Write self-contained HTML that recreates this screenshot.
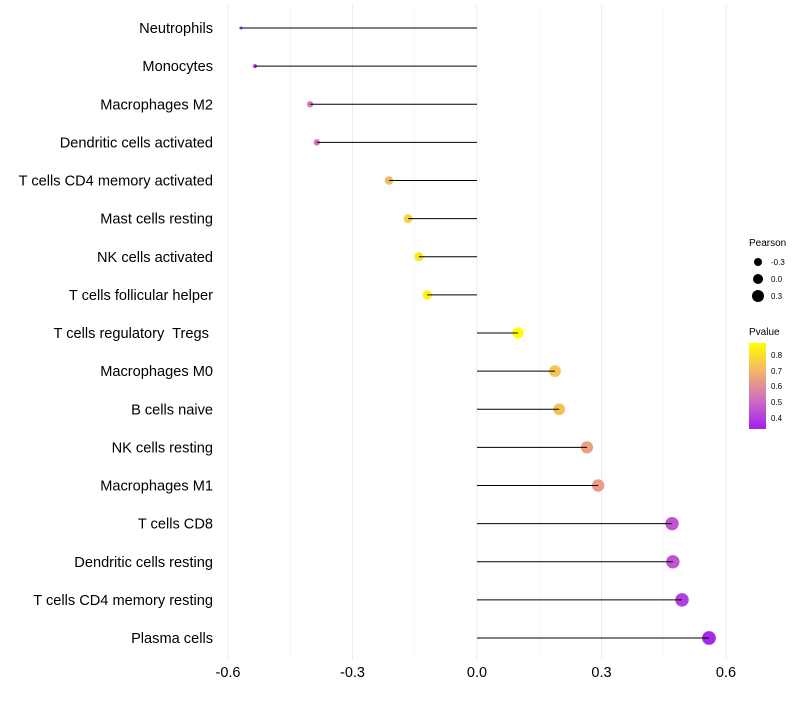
<!DOCTYPE html>
<html><head><meta charset="utf-8"><style>
body{margin:0;background:#fff;font-family:"Liberation Sans",sans-serif}
svg text{font-family:"Liberation Sans",sans-serif;white-space:pre}
</style></head><body>
<svg id="chart" width="800" height="700" xmlns="http://www.w3.org/2000/svg">
<defs><linearGradient id="pg" x1="0" y1="1" x2="0" y2="0">
<stop offset="0" stop-color="#a020f0"/><stop offset="0.35" stop-color="#d070c0"/><stop offset="0.65" stop-color="#f0b070"/><stop offset="1" stop-color="#ffff00"/>
</linearGradient></defs>
<g id="grid"></g><g id="marks"></g><g id="labels"></g>
<g>
<text x="749" y="246" font-size="10">Pearson</text>
<circle cx="758" cy="262" r="4" fill="#000"/><text x="771" y="265" font-size="8">-0.3</text>
<circle cx="758" cy="279" r="5" fill="#000"/><text x="771" y="282" font-size="8">0.0</text>
<circle cx="758" cy="296" r="6" fill="#000"/><text x="771" y="299" font-size="8">0.3</text>
<text x="749" y="335" font-size="10">Pvalue</text>
<rect x="749" y="343" width="17" height="86" fill="url(#pg)"/>
<text x="771" y="358" font-size="8">0.8</text><text x="771" y="374" font-size="8">0.7</text>
<text x="771" y="389" font-size="8">0.6</text><text x="771" y="405" font-size="8">0.5</text>
<text x="771" y="421" font-size="8">0.4</text>
</g>
</svg>
<script>
const categories=["Neutrophils","Monocytes","Macrophages M2","Dendritic cells activated","T cells CD4 memory activated","Mast cells resting","NK cells activated","T cells follicular helper","T cells regulatory  Tregs ","Macrophages M0","B cells naive","NK cells resting","Macrophages M1","T cells CD8","Dendritic cells resting","T cells CD4 memory resting","Plasma cells"];
const pearson=[-0.569,-0.535,-0.402,-0.386,-0.212,-0.166,-0.140,-0.120,0.099,0.188,0.198,0.265,0.292,0.470,0.472,0.494,0.559];
const pvalue=[0.38,0.39,0.55,0.55,0.72,0.78,0.83,0.86,0.88,0.75,0.74,0.66,0.65,0.47,0.47,0.42,0.37];
const xTicks=[-0.6,-0.3,0.0,0.3,0.6];
const xTickLabels=["-0.6","-0.3","0.0","0.3","0.6"];
const NS="http://www.w3.org/2000/svg";
const xs=v=>477+v*415;
const ys=i=>28+i*(610/16);
const rs=v=>Math.sqrt(Math.max(1,2.25+47*(v+0.57)-6*(v+0.57)*(v+0.57)));
const stops=[[0.35,[160,32,240]],[0.53,[208,112,192]],[0.7,[240,176,112]],[0.88,[255,255,0]]];
function col(p){p=Math.max(0.35,Math.min(0.88,p));for(let k=0;k<stops.length-1;k++){const a=stops[k],b=stops[k+1];if(p<=b[0]){const t=(p-a[0])/(b[0]-a[0]);return "rgb("+a[1].map((c,j)=>Math.round(c+(b[1][j]-c)*t)).join(",")+")";}}return "rgb(255,255,0)";}
function mk(tag,at,parent){const e=document.createElementNS(NS,tag);for(const k in at)e.setAttribute(k,at[k]);document.getElementById(parent).appendChild(e);return e;}
const minor=[-0.45,-0.15,0.15,0.45];
minor.forEach(v=>{const l=mk("line",{x1:xs(v),x2:xs(v),y1:5,y2:660,stroke:"#f3f3f3","stroke-width":0.6},"grid");

});
xTicks.forEach((v,i)=>{const l=mk("line",{x1:xs(v),x2:xs(v),y1:5,y2:660,stroke:"#ebebeb","stroke-width":1},"grid");


const t=mk("text",{x:xs(v),y:677,"font-size":14.5,"text-anchor":"middle",fill:"#000"},"labels");t.textContent=xTickLabels[i];

});
categories.forEach((c,i)=>{
const t=mk("text",{x:213,y:ys(i)+5,"font-size":14.6,"text-anchor":"end",fill:"#000"},"labels");t.textContent=c;


const p=mk("circle",{cx:xs(pearson[i]),cy:ys(i),r:rs(pearson[i]),fill:col(pvalue[i])},"marks");


const l=mk("line",{x1:xs(0),x2:xs(pearson[i]),y1:ys(i),y2:ys(i),stroke:"#000","stroke-width":1},"marks");

});
</script>
</body></html>
